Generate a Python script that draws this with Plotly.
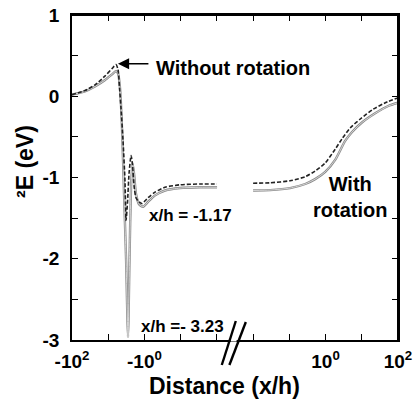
import numpy as np
import plotly.graph_objects as go

# ---- data (x/h, energy in eV) ----
# left branch (negative distances)
dash_left_x = [-100, -43.8, -23.2, -12.2, -7.85, -6.09, -5.36, -4.87, -4.43, -3.90, -3.44, -3.22,
               -2.93, -2.66, -2.34, -2.13, -1.94, -1.71, -1.41, -1.16, -0.796, -0.509, -0.270,
               -0.104, -0.0291, -0.0099]
dash_left_y = [0.02, 0.07, 0.14, 0.25, 0.34, 0.39, 0.33, 0.10, -0.15, -0.55, -1.05, -1.53,
               -1.30, -0.95, -0.73, -0.85, -1.10, -1.25, -1.30, -1.32, -1.25, -1.18, -1.12,
               -1.09, -1.08, -1.08]
solid_left_x = [-100, -43.8, -23.2, -12.2, -7.85, -6.09, -5.36, -4.72, -4.16, -3.66, -3.22, -2.84,
                -2.58, -2.34, -2.13, -1.94, -1.71, -1.41, -1.09, -0.796, -0.509, -0.270,
                -0.104, -0.0291, -0.0099]
solid_left_y = [0.02, 0.06, 0.12, 0.20, 0.27, 0.31, 0.28, 0.10, -0.40, -1.20, -2.00, -2.96,
                -2.00, -1.10, -0.82, -0.95, -1.20, -1.33, -1.36, -1.30, -1.22, -1.16,
                -1.13, -1.12, -1.12]
# right branch (positive distances)
dash_right_x = [0.01, 0.0295, 0.105, 0.274, 0.515, 0.98, 1.86, 2.88, 4.79, 9.1, 20.6, 50, 100]
dash_right_y = [-1.07, -1.065, -1.04, -0.99, -0.92, -0.82, -0.65, -0.52, -0.39, -0.28, -0.16, -0.07, -0.02]
solid_right_x = [0.01, 0.0295, 0.105, 0.274, 0.515, 0.98, 1.86, 3.47, 5.4, 10.3, 23.4, 53.7, 100]
solid_right_y = [-1.16, -1.155, -1.13, -1.08, -1.02, -0.93, -0.78, -0.55, -0.44, -0.32, -0.21, -0.12, -0.08]

x_tick_vals = [-100, -10, -1, -0.1, -0.01, 0.01, 0.1, 1, 10, 100]
x_tick_text = ["-10<sup>2</sup>", "", "-10<sup>0</sup>", "", "", "", "", "10<sup>0</sup>", "", "10<sup>2</sup>"]
y_tick_vals = [-3, -2.5, -2, -1.5, -1, -0.5, 0, 0.5, 1]
y_tick_text = ["-3", "", "-2", "", "-1", "", "0", "", "1"]


def brk(x):
    """Broken symmetric log axis: -10^2 -> 0, ..., -10^-2 -> 4 | 10^-2 -> 5, ..., 10^2 -> 9"""
    x = np.asarray(x, dtype=float)
    return np.where(x < 0, 2 - np.log10(np.abs(x)), 7 + np.log10(np.abs(x)))


FONT = "Liberation Sans"
fig = go.Figure()

# solid gray (with rotation) - outlined gray look
for xs, ys in [(solid_left_x, solid_left_y), (solid_right_x, solid_right_y)]:
    fig.add_trace(go.Scatter(x=brk(xs), y=ys, mode="lines",
                             line=dict(color="#8a8a8a", width=2.4, shape="spline", smoothing=0.6),
                             showlegend=False, hoverinfo="skip"))
    fig.add_trace(go.Scatter(x=brk(xs), y=ys, mode="lines",
                             line=dict(color="#dcdcdc", width=0.9, shape="spline", smoothing=0.6),
                             showlegend=False, hoverinfo="skip"))
# dashed black (without rotation)
for xs, ys in [(dash_left_x, dash_left_y), (dash_right_x, dash_right_y)]:
    fig.add_trace(go.Scatter(x=brk(xs), y=ys, mode="lines",
                             line=dict(color="#222222", width=1.6, dash="4px,2px", shape="spline", smoothing=0.6),
                             showlegend=False, hoverinfo="skip"))

fig.update_layout(
    width=413, height=403,
    margin=dict(l=72, r=15, t=15, b=63, autoexpand=False),
    paper_bgcolor="white", plot_bgcolor="white",
    font=dict(family=FONT, color="black"),
    xaxis=dict(range=[0, 9], tickmode="array", tickvals=list(brk(x_tick_vals)), ticktext=x_tick_text,
               ticks="inside", ticklen=6, tickwidth=1.2, tickcolor="black", automargin=False,
               showline=True, linecolor="black", linewidth=1.6, mirror="ticks",
               showgrid=False, zeroline=False, ticklabelstandoff=3,
               tickfont=dict(family=FONT, size=19, color="black", weight="bold")),
    yaxis=dict(range=[-3, 1], tickmode="array", tickvals=y_tick_vals, ticktext=y_tick_text,
               ticks="inside", ticklen=6, tickwidth=1.2, tickcolor="black", automargin=False,
               showline=True, linecolor="black", linewidth=1.6, mirror="ticks",
               showgrid=False, zeroline=False, ticklabelstandoff=7,
               tickfont=dict(family=FONT, size=19, color="black", weight="bold")),
)

bold = lambda s: f"<b>{s}</b>"
# axis titles
fig.add_annotation(text=bold("Distance (x/h)"), xref="paper", yref="paper", x=(224 - 72) / 326, y=(340 - 386) / 325,
                   showarrow=False, font=dict(family=FONT, size=23), xanchor="center", yanchor="middle")
fig.add_annotation(text=bold("²E (eV)"), xref="paper", yref="paper", x=(25 - 72) / 326, y=(340 - 162) / 325,
                   showarrow=False, textangle=-90, font=dict(family=FONT, size=23),
                   xanchor="center", yanchor="middle")
# labels
fig.add_annotation(text=bold("Without rotation"), xref="paper", yref="paper",
                   x=(154 - 72) / 326, y=(340 - 68) / 325, xanchor="left", yanchor="middle",
                   showarrow=False, font=dict(family=FONT, size=20))
fig.add_annotation(text="", x=float(brk([-5.4])[0]), y=0.40, ax=32, ay=0,
                   showarrow=True, arrowhead=2, arrowsize=1.6, arrowwidth=1.4, arrowcolor="black")
fig.add_annotation(text=bold("With<br>rotation"), xref="paper", yref="paper",
                   x=(350 - 72) / 326, y=(340 - 197) / 325, xanchor="center", yanchor="middle",
                   showarrow=False, font=dict(family=FONT, size=20))
fig.add_annotation(text=bold("x/h = -1.17"), xref="paper", yref="paper",
                   x=(147 - 72) / 326, y=(340 - 216) / 325, xanchor="left", yanchor="middle",
                   showarrow=False, font=dict(family=FONT, size=17))
fig.add_annotation(text=bold("x/h =- 3.23"), xref="paper", yref="paper",
                   x=(139 - 72) / 326, y=(340 - 326) / 325, xanchor="left", yanchor="middle",
                   showarrow=False, font=dict(family=FONT, size=17))

# explicit top and right frame lines
fig.add_shape(type="line", xref="paper", yref="paper", x0=0, x1=1, y0=1, y1=1,
              line=dict(color="black", width=2), layer="above")
fig.add_shape(type="line", xref="paper", yref="paper", x0=1, x1=1, y0=0, y1=1,
              line=dict(color="black", width=2), layer="above")

# axis break marks
def px2u(px):
    return (px - 72) / 36.2

def py2p(py):
    return (340 - py) / 325

fig.add_shape(type="line", xref="x", yref="paper", x0=px2u(230.5), x1=px2u(236.5), y0=0, y1=0,
              line=dict(color="white", width=3))
fig.add_shape(type="line", xref="x", yref="paper", x0=px2u(221.7), y0=py2p(365), x1=px2u(235.7), y1=py2p(321),
              line=dict(color="black", width=2.4))
fig.add_shape(type="line", xref="x", yref="paper", x0=px2u(229.3), y0=py2p(365), x1=px2u(245.7), y1=py2p(322),
              line=dict(color="black", width=2.4))

# the page body would otherwise add an 8px margin around the fixed-size figure
fig.write_html("out.html", config={"displayModeBar": False},
               post_script="document.body.style.margin='0';document.body.style.overflow='hidden';")
